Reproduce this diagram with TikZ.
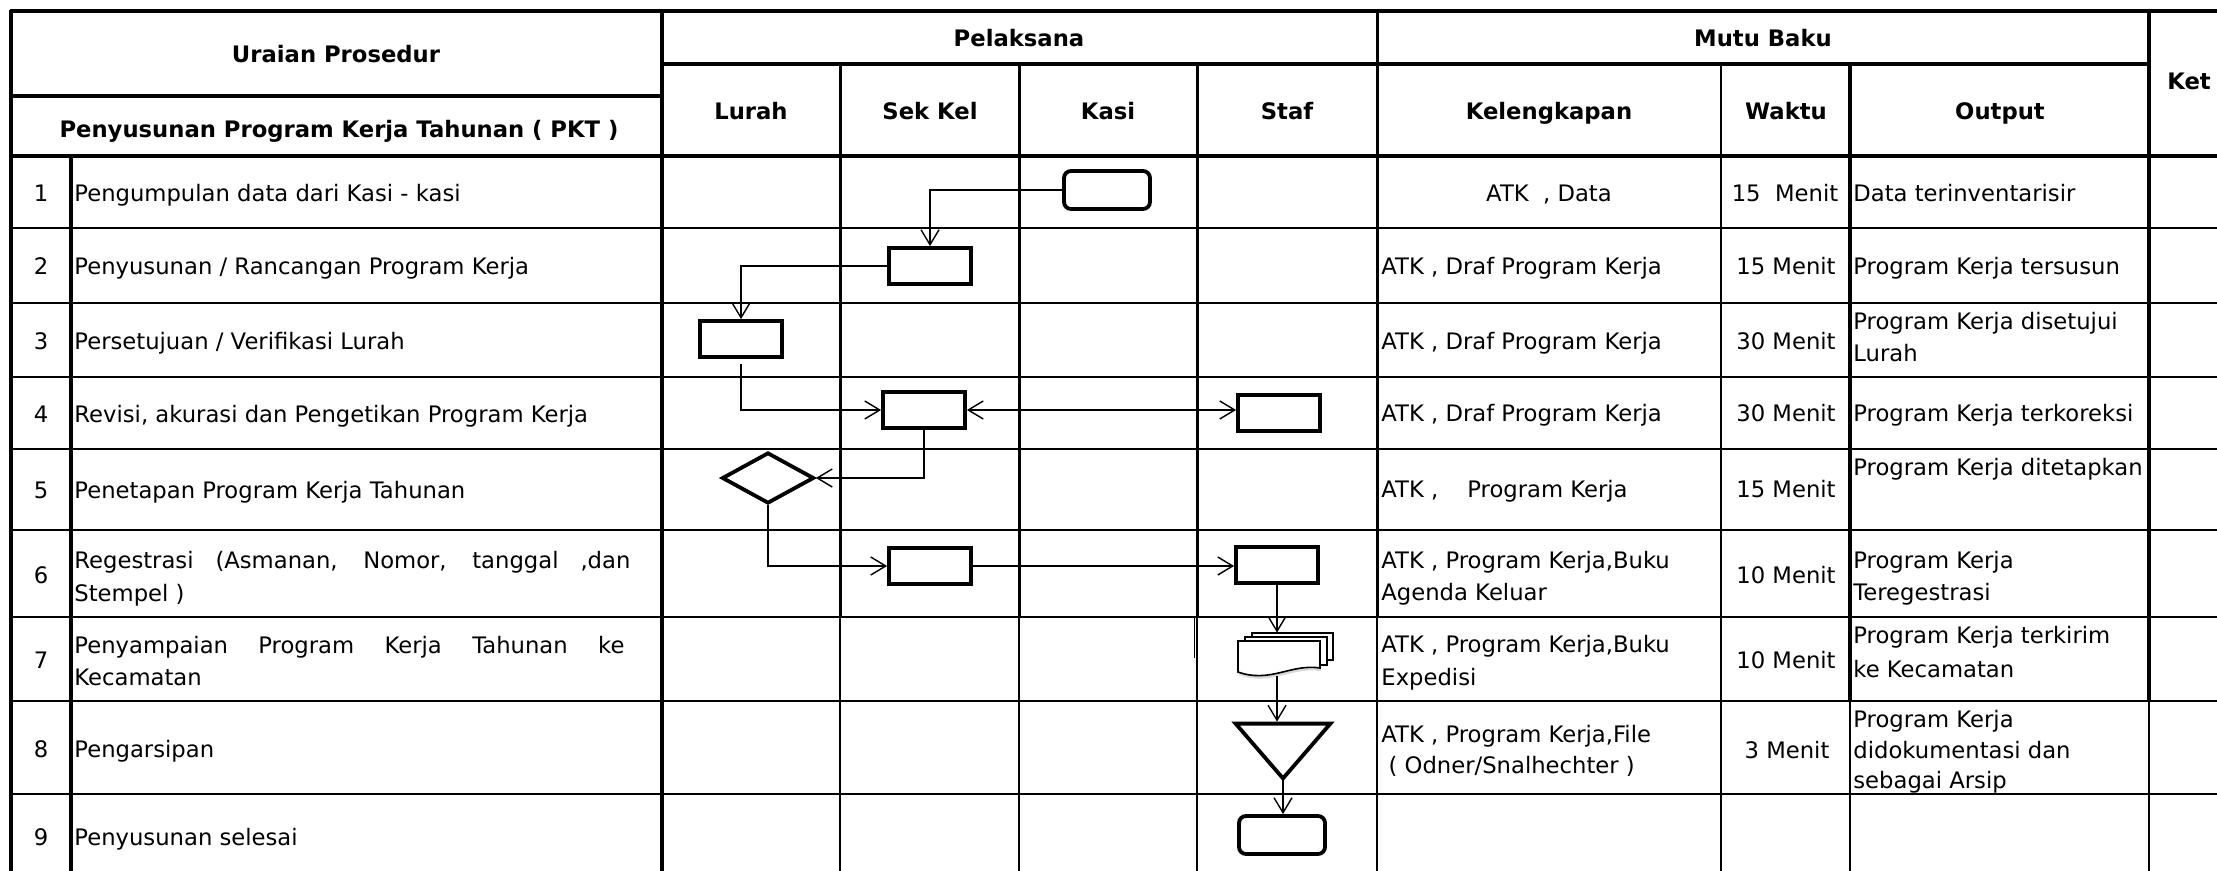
\documentclass[tikz,border=0pt]{standalone}
\usepackage{fontspec}
\setmainfont{DejaVu Sans}
\usetikzlibrary{arrows.meta,shapes.geometric,shadows}
\newcommand{\tabfont}{\fontsize{11.35pt}{16pt}\selectfont}

\tikzset{
    >={Straight Barb[length=7.5pt,width=9pt]},
    grid/.style={line width=1pt},
    gridthick/.style={line width=1.7pt},
    prosbox/.style={draw,line width=1.9pt,minimum width=41pt,minimum height=18pt,inner sep=0},
    termbox/.style={prosbox,rounded corners=3.5pt,minimum width=43pt,minimum height=19pt},
    decision/.style={diamond,draw,line width=1.9pt,aspect=1.8,minimum width=46pt,minimum height=25.5pt,inner sep=0},
    flow/.style={line width=0.7pt,->},
    lbl/.style={anchor=base west,inner sep=0},
    clbl/.style={anchor=base,inner sep=0},
    hdr/.style={anchor=base,inner sep=0,font=\tabfont\bfseries},
}

\begin{document}
\begin{tikzpicture}[x=0.5pt,y=-0.5pt,font=\tabfont]%[every node/.style={inner sep=0,outer sep=0}]
    \path[use as bounding box,fill=white] (0,0) rectangle (2217,871);

    \draw[line width=2pt] (10,11) -- (2230,11);
    \draw[line width=2pt] (11,10) -- (11,880);
    \draw[gridthick] (662,64) -- (2149,64);
    \draw[gridthick] (11,96) -- (662,96);
    \draw[gridthick] (11,156) -- (2230,156);
    \draw[grid] (11,228) -- (2230,228);
    \draw[grid] (11,303) -- (2230,303);
    \draw[grid] (11,377) -- (2230,377);
    \draw[grid] (11,449) -- (2230,449);
    \draw[grid] (11,530) -- (2230,530);
    \draw[grid] (11,617) -- (2230,617);
    \draw[grid] (11,701) -- (2230,701);
    \draw[grid] (11,794) -- (2230,794);

    \draw[gridthick] (71,156) -- (71,880);
    \draw[gridthick] (662,11) -- (662,880);
    \draw[line width=1.5pt] (840,64) -- (840,617);
    \draw[grid] (840,617) -- (840,880);
    \draw[line width=1.5pt] (1019,64) -- (1019,617);
    \draw[grid] (1019,617) -- (1019,880);
    \draw[line width=1.5pt] (1197,64) -- (1197,617);
    \draw[grid] (1197,617) -- (1197,880);
    \draw[line width=0.7pt] (1194.5,617) -- (1194.5,658);
    \draw[line width=1.5pt] (1377,11) -- (1377,617);
    \draw[grid] (1377,617) -- (1377,880);
    \draw[line width=1.2pt] (1721,64) -- (1721,880);
    \draw[gridthick] (1850,64) -- (1850,701);
    \draw[grid] (1850,701) -- (1850,880);
    \draw[gridthick] (2149,11) -- (2149,701);
    \draw[grid] (2149,701) -- (2149,880);

    \node(hUr)[hdr] at (336,63) {Uraian Prosedur};
    \node(hPkt)[hdr] at (339,138) {Penyusunan Program Kerja Tahunan ( PKT )};
    \node(hPel)[hdr] at (1019,47) {Pelaksana};
    \node(hMutu)[hdr] at (1763,47) {Mutu Baku};
    \node(hLurah)[hdr] at (751,120) {Lurah};
    \node(hSek)[hdr] at (930,120) {Sek Kel};
    \node(hKasi)[hdr] at (1108,120) {Kasi};
    \node(hStaf)[hdr] at (1287,120) {Staf};
    \node(hKel)[hdr] at (1549,120) {Kelengkapan};
    \node(hWaktu)[hdr] at (1786,120) {Waktu};
    \node(hOut)[hdr] at (2000,120) {Output};
    \node(hKet)[hdr] at (2189,90) {Ket};

    \node(n1)[clbl] at (41,202) {1};
    \node(n2)[clbl] at (41,275) {2};
    \node(n3)[clbl] at (41,350) {3};
    \node(n4)[clbl] at (41,423) {4};
    \node(n5)[clbl] at (41,499) {5};
    \node(n6)[clbl] at (41,583) {6};
    \node(n7)[clbl] at (41,668) {7};
    \node(n8)[clbl] at (41,757) {8};
    \node(n9)[clbl] at (41,845) {9};

    \node(u1)[lbl] at (74,202) {Pengumpulan data dari Kasi - kasi};
    \node(u2)[lbl] at (74,275) {Penyusunan / Rancangan Program Kerja};
    \node(u3)[lbl] at (74,350) {Persetujuan / Verifikasi Lurah};
    \node(u4)[lbl] at (74,423) {Revisi, akurasi dan Pengetikan Program Kerja};
    \node(u5)[lbl] at (74,499) {Penetapan Program Kerja Tahunan};
    \node(u6)[lbl] at (74,568) {\makebox[278pt][s]{Regestrasi (Asmanan, Nomor, tanggal ,dan}};
    \node(u6b)[lbl] at (74,601) {Stempel )};
    \node(u7)[lbl] at (74,653) {\makebox[275pt][s]{Penyampaian Program Kerja Tahunan ke}};
    \node(u7b)[lbl] at (74,685) {Kecamatan};
    \node(u8)[lbl] at (74,757) {Pengarsipan};
    \node(u9)[lbl] at (74,845) {Penyusunan selesai};

    \node(k1)[clbl] at (1549,202) {ATK\ \ , Data};
    \node(k2)[lbl] at (1381,275) {ATK , Draf Program Kerja};
    \node(k3)[lbl] at (1381,350) {ATK , Draf Program Kerja};
    \node(k4)[lbl] at (1381,422) {ATK , Draf Program Kerja};
    \node(k5)[lbl] at (1381,498) {ATK ,\hspace{14.5pt}Program Kerja};
    \node(k6)[lbl] at (1381,568) {ATK , Program Kerja,Buku};
    \node(k6b)[lbl] at (1381,600) {Agenda Keluar};
    \node(k7)[lbl] at (1381,652) {ATK , Program Kerja,Buku};
    \node(k7b)[lbl] at (1381,685) {Expedisi};
    \node(k8)[lbl] at (1381,742) {ATK , Program Kerja,File};
    \node(k8b)[lbl] at (1381,773) {\ ( Odner/Snalhechter )};

    \node(w1)[clbl] at (1785,202) {15\ \ Menit};
    \node(w2)[clbl] at (1786,275) {15 Menit};
    \node(w3)[clbl] at (1786,350) {30 Menit};
    \node(w4)[clbl] at (1786,422) {30 Menit};
    \node(w5)[clbl] at (1786,498) {15 Menit};
    \node(w6)[clbl] at (1786,583) {10 Menit};
    \node(w7)[clbl] at (1786,668) {10 Menit};
    \node(w8)[clbl] at (1787,758) {3 Menit};

    \node(o1)[lbl] at (1853,202) {Data terinventarisir};
    \node(o2)[lbl] at (1853,275) {Program Kerja tersusun};
    \node(o3)[lbl] at (1853,330) {Program Kerja disetujui};
    \node(o3b)[lbl] at (1853,362) {Lurah};
    \node(o4)[lbl] at (1853,422) {Program Kerja terkoreksi};
    \node(o5)[lbl] at (1853,475) {Program Kerja ditetapkan};
    \node(o6)[lbl] at (1853,568) {Program Kerja};
    \node(o6b)[lbl] at (1853,600) {Teregestrasi};
    \node(o7)[lbl] at (1853,643) {Program Kerja terkirim};
    \node(o7b)[lbl] at (1853,677) {ke Kecamatan};
    \node(o8)[lbl] at (1853,727) {Program Kerja};
    \node(o8b)[lbl] at (1853,758) {didokumentasi dan};
    \node(o8c)[lbl] at (1853,788) {sebagai Arsip};

    \node(s1)[termbox] at (1107,190) {};
    \node(p2)[prosbox] at (930,266) {};
    \node(p3)[prosbox] at (741,339) {};
    \node(p4)[prosbox] at (924,410) {};
    \node(p4s)[prosbox] at (1279,413) {};
    \node(d5)[decision] at (768,478) {};
    \node(p6)[prosbox] at (930,566) {};
    \node(p6s)[prosbox] at (1277,565) {};
    \node(doc7)[minimum width=47.5pt,minimum height=21.5pt,inner sep=0] at (1285.5,654.5) {};
    \node(t8)[minimum width=47pt,minimum height=27pt,inner sep=0] at (1283,751) {};
    \node(e9)[termbox] at (1282,835) {};

    \begin{scope}[shift={(doc7.center)}]
        \draw[line width=0.8pt,fill=white] (-33.5,-21.5) rectangle (47.5,5.5);
        \draw[line width=0.8pt,fill=white] (-40.5,-17.5) rectangle (41.5,10.5);
        \draw[line width=0.8pt,fill=white,drop shadow={shadow xshift=0.5pt,shadow yshift=-1.5pt,opacity=0.3}]
            (-47.5,-13.5) -- (34.5,-13.5) -- (34.5,13.5) .. controls (5,9) and (-15,29) .. (-47.5,17.5) -- cycle;
    \end{scope}
    \draw[line width=1.9pt,fill=white] (t8.north west) -- (t8.north east) -- (t8.south) -- cycle;

    \draw[flow] (s1.west) -| (p2.north);
    \draw[flow] (p2.west) -| (p3.north);
    \draw[flow] ([yshift=-2.5pt]p3.south) |- (p4.west);
    \draw[flow,<->] (p4.east) -- (p4.east -| p4s.west);
    \draw[flow] (p4.south) |- (d5.east);
    \draw[flow] (d5.south) |- (p6.west);
    \draw[flow] (p6.east) -- (p6.east -| p6s.west);
    \draw[flow] (p6s.south) -- (p6s.south |- doc7.north);
    \draw[flow] (p6s.south |- doc7.south) -- ([yshift=1pt]p6s.south |- t8.north);
    \draw[flow] (t8.south) -- (t8.south |- e9.north);
\end{tikzpicture}
\end{document}
